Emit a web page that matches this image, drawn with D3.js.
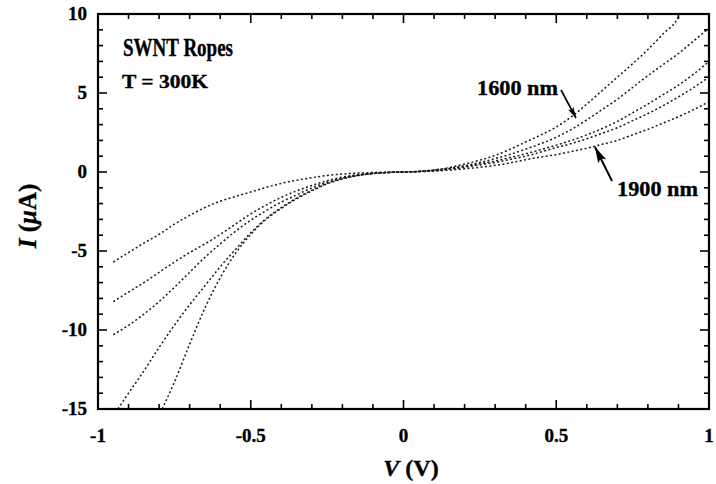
<!DOCTYPE html>
<html lang="en">
<head>
    <meta charset="UTF-8">
    <title>SWNT Ropes I-V</title>
    <style>
        body { margin: 0; background: #fff; }
        svg text { font-family: 'Liberation Serif', 'DejaVu Serif', serif; font-weight: bold; fill: #000; stroke: #000; stroke-width: 0.35px; }
        .curve { fill: none; stroke: #1a1a1a; stroke-width: 1.5; stroke-dasharray: 2 2.4; }
    </style>
</head>
<body>
    <div id="chart"></div>
    <script src="https://d3js.org/d3.v7.min.js"></script>
    <script>
        // voltage grid (left branch / right branch) and current in uA
        const vLeftA = [-0.95, -0.9, -0.85, -0.8, -0.75, -0.7, -0.65, -0.6, -0.55, -0.5, -0.45, -0.4, -0.35, -0.3, -0.25, -0.2, -0.15, -0.1, -0.05, 0];
        const vRight = [0.05, 0.1, 0.15, 0.2, 0.25, 0.3, 0.35, 0.4, 0.45, 0.5, 0.55, 0.6, 0.65, 0.7, 0.75, 0.8, 0.85, 0.9, 0.95, 1.0];

        // 1900 nm rope (smallest current)
        const iA_left = [-5.7, -5.1, -4.5, -3.95, -3.3, -2.75, -2.25, -1.85, -1.55, -1.27, -0.98, -0.72, -0.52, -0.36, -0.22, -0.13, -0.07, -0.03, -0.01, 0];
        const iA_right = [0.02, 0.06, 0.12, 0.2, 0.3, 0.42, 0.58, 0.78, 0.95, 1.1, 1.3, 1.5, 1.75, 2.0, 2.35, 2.7, 3.1, 3.5, 3.95, 4.45];

        const iB_left = [-8.2, -7.6, -7.0, -6.35, -5.7, -5.1, -4.55, -3.95, -3.3, -2.65, -2.1, -1.6, -1.2, -0.85, -0.55, -0.32, -0.17, -0.08, -0.03, 0];
        const iB_right = [0.03, 0.08, 0.17, 0.3, 0.45, 0.6, 0.8, 1.0, 1.27, 1.55, 1.8, 2.1, 2.45, 2.8, 3.25, 3.7, 4.2, 4.75, 5.35, 6.0];

        const iC_left = [-10.3, -9.7, -9.0, -8.2, -7.3, -6.35, -5.4, -4.55, -3.75, -3.05, -2.45, -1.9, -1.45, -1.0, -0.65, -0.38, -0.2, -0.09, -0.03, 0];
        const iC_right = [0.03, 0.1, 0.2, 0.35, 0.52, 0.7, 0.92, 1.15, 1.42, 1.7, 2.0, 2.35, 2.75, 3.2, 3.75, 4.3, 4.9, 5.5, 6.2, 7.0];

        const vLeftD = [-0.935, -0.9, -0.85, -0.8, -0.75, -0.7, -0.65, -0.6, -0.55, -0.5, -0.45, -0.4, -0.35, -0.3, -0.25, -0.2, -0.15, -0.1, -0.05, 0];
        const iD_left = [-15, -14.0, -12.6, -11.1, -9.7, -8.4, -7.2, -6.0, -4.9, -3.85, -2.95, -2.25, -1.65, -1.15, -0.72, -0.42, -0.22, -0.1, -0.03, 0];
        const iD_right = [0.04, 0.12, 0.24, 0.4, 0.6, 0.85, 1.12, 1.45, 1.8, 2.2, 2.7, 3.3, 3.95, 4.6, 5.35, 6.1, 6.8, 7.5, 8.3, 9.1];

        // 1600 nm rope (largest current)
        const vLeftE = [-0.79, -0.75, -0.7, -0.65, -0.6, -0.55, -0.5, -0.45, -0.4, -0.35, -0.3, -0.25, -0.2, -0.15, -0.1, -0.05, 0];
        const iE_left = [-15, -13.3, -10.9, -8.6, -6.7, -5.15, -3.95, -3.0, -2.3, -1.7, -1.2, -0.75, -0.44, -0.23, -0.1, -0.03, 0];
        const vRightE = [0.05, 0.1, 0.15, 0.2, 0.25, 0.3, 0.35, 0.4, 0.45, 0.5, 0.55, 0.6, 0.65, 0.7, 0.75, 0.8, 0.85, 0.9, 0.905];
        const iE_right = [0.04, 0.13, 0.28, 0.5, 0.75, 1.05, 1.45, 1.9, 2.35, 2.85, 3.5, 4.3, 5.15, 6.0, 6.85, 7.75, 8.75, 9.8, 10];

        const xTicks = [-1, -0.5, 0, 0.5, 1];
        const xTickLabels = ['-1', '-0.5', '0', '0.5', '1'];
        const yTicks = [10, 5, 0, -5, -10, -15];
        const yTickLabels = ['10', '5', '0', '-5', '-10', '-15'];

        function series(vl, il, vr, ir) {
            const pts = [];
            vl.forEach((v, i) => pts.push([v, il[i]]));
            vr.forEach((v, i) => pts.push([v, ir[i]]));
            return pts;
        }

        const curves = [
            series(vLeftA, iA_left, vRight, iA_right),
            series(vLeftA, iB_left, vRight, iB_right),
            series(vLeftA, iC_left, vRight, iC_right),
            series(vLeftD, iD_left, vRight, iD_right),
            series(vLeftE, iE_left, vRightE, iE_right)
        ];

        const width = 716, height = 484;
        const plotL = 98, plotR = 709, plotT = 14, plotB = 409;

        const svg = d3.select('#chart').append('svg')
            .attr('width', width)
            .attr('height', height);

        const x = d3.scaleLinear().domain([-1, 1]).range([plotL, plotR]);
        const y = d3.scaleLinear().domain([-15, 10]).range([plotB, plotT]);

        svg.append('clipPath').attr('id', 'clip')
            .append('rect')
            .attr('x', plotL).attr('y', plotT)
            .attr('width', plotR - plotL).attr('height', plotB - plotT);

        const line = d3.line()
            .x(d => x(d[0]))
            .y(d => y(d[1]))
            .curve(d3.curveMonotoneX);

        svg.append('g').attr('clip-path', 'url(#clip)')
            .selectAll('path')
            .data(curves)
            .enter()
            .append('path')
            .attr('class', 'curve')
            .attr('d', line);

        // inward ticks on all four sides
        const xMinor = d3.range(-10, 11).map(d => d / 10);
        const yMinor = d3.range(-15, 11);
        const tickG = svg.append('g').attr('stroke', '#000').attr('stroke-width', 1.6);

        xMinor.forEach(v => {
            const major = xTicks.includes(v);
            const len = major ? 9 : 5;
            tickG.append('line').attr('x1', x(v)).attr('x2', x(v)).attr('y1', plotB).attr('y2', plotB - len);
            tickG.append('line').attr('x1', x(v)).attr('x2', x(v)).attr('y1', plotT).attr('y2', plotT + len);
        });
        yMinor.forEach(v => {
            const major = yTicks.includes(v);
            const len = major ? 9 : 5;
            tickG.append('line').attr('y1', y(v)).attr('y2', y(v)).attr('x1', plotL).attr('x2', plotL + len);
            tickG.append('line').attr('y1', y(v)).attr('y2', y(v)).attr('x1', plotR).attr('x2', plotR - len);
        });

        svg.append('rect')
            .attr('x', plotL).attr('y', plotT)
            .attr('width', plotR - plotL).attr('height', plotB - plotT)
            .attr('fill', 'none')
            .attr('stroke', '#000')
            .attr('stroke-width', 2.2);

        // tick labels
        svg.append('g').selectAll('text')
            .data(xTicks)
            .enter()
            .append('text')
            .attr('x', d => x(d))
            .attr('y', 442)
            .attr('text-anchor', 'middle')
            .style('font-size', '19px')
            .text((d, i) => xTickLabels[i]);

        svg.append('g').selectAll('text')
            .data(yTicks)
            .enter()
            .append('text')
            .attr('x', 87)
            .attr('y', d => y(d) + 6)
            .attr('text-anchor', 'end')
            .style('font-size', '19px')
            .text((d, i) => yTickLabels[i]);

        // axis titles
        const xt = svg.append('text')
            .attr('x', 411)
            .attr('y', 476)
            .attr('text-anchor', 'middle')
            .style('font-size', '24px');
        xt.append('tspan').style('font-style', 'italic').text('V');
        xt.append('tspan').text(' (V)');

        const yt = svg.append('text')
            .attr('transform', 'translate(36, 216) rotate(-90)')
            .attr('text-anchor', 'middle')
            .style('font-size', '25px');
        yt.append('tspan').style('font-style', 'italic').text('I');
        yt.append('tspan').text(' (');
        yt.append('tspan').style('font-style', 'italic').text('μ');
        yt.append('tspan').text('A)');

        // annotations
        svg.append('text')
            .attr('x', 123).attr('y', 56)
            .attr('textLength', 110).attr('lengthAdjust', 'spacingAndGlyphs')
            .style('font-size', '25px')
            .text('SWNT Ropes');

        svg.append('text')
            .attr('x', 122).attr('y', 88)
            .attr('textLength', 86).attr('lengthAdjust', 'spacingAndGlyphs')
            .style('font-size', '19px')
            .text('T = 300K');

        svg.append('text')
            .attr('x', 477).attr('y', 95)
            .attr('textLength', 81).attr('lengthAdjust', 'spacingAndGlyphs')
            .style('font-size', '21px')
            .text('1600 nm');

        svg.append('text')
            .attr('x', 617).attr('y', 196)
            .attr('textLength', 81).attr('lengthAdjust', 'spacingAndGlyphs')
            .style('font-size', '21px')
            .text('1900 nm');

        // arrows: shaft plus a filled head drawn along the shaft direction
        function arrow(x1, y1, x2, y2, headLen, headW, sw) {
            svg.append('line')
                .attr('x1', x1).attr('y1', y1).attr('x2', x2).attr('y2', y2)
                .attr('stroke', '#000').attr('stroke-width', sw);
            const ang = Math.atan2(y2 - y1, x2 - x1) * 180 / Math.PI;
            svg.append('path')
                .attr('d', `M0,0 L${-headLen},${-headW / 2} L${-headLen * 0.8},0 L${-headLen},${headW / 2} Z`)
                .attr('transform', `translate(${x2},${y2}) rotate(${ang})`)
                .attr('fill', '#000');
        }
        arrow(561, 90, 576, 118, 11, 6, 1.6);
        arrow(612, 181, 595, 147, 16, 9, 1.9);
    </script>
</body>
</html>
